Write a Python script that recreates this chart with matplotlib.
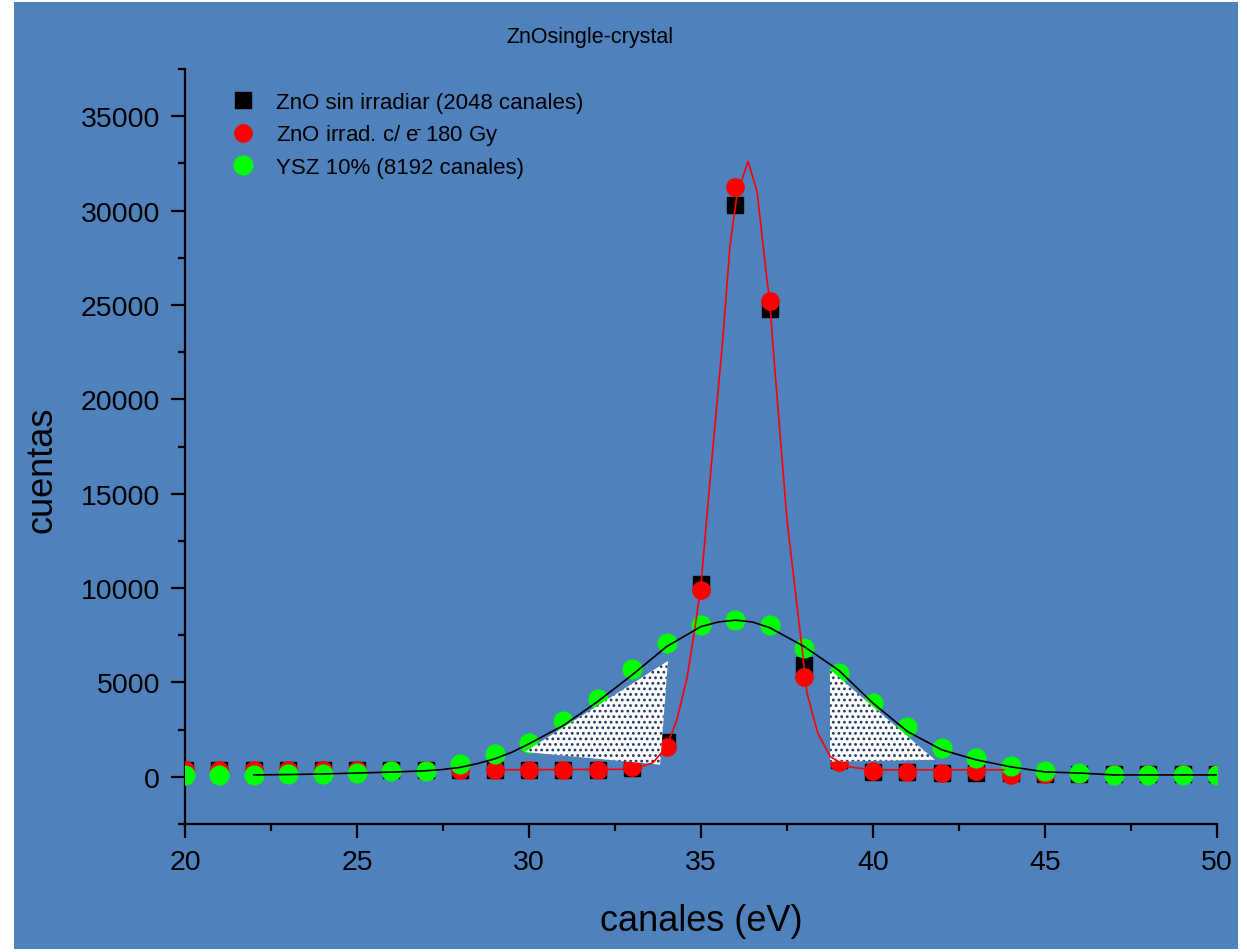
import matplotlib.pyplot as plt
from matplotlib.patches import Rectangle, Polygon
from matplotlib.ticker import MultipleLocator
import numpy as np

plt.rcParams['font.family'] = ['Liberation Sans', 'DejaVu Sans']
plt.rcParams['mathtext.fontset'] = 'custom'
plt.rcParams['mathtext.rm'] = 'Liberation Sans'
plt.rcParams['mathtext.it'] = 'Liberation Sans'
plt.rcParams['hatch.linewidth'] = 1.2

BG = '#4F81BD'

# channel axis (eV), one point per channel
canales = np.arange(20, 51)

# ZnO sin irradiar (2048 canales)
zno_raw = [350, 350, 350, 350, 350, 350, 350, 350, 370, 370,
           370, 370, 370, 470, 1850, 10200, 30300, 24800, 5950, 900,
           270, 260, 210, 210, 210, 150, 150, 150, 150, 150, 150]
# ZnO irradiado c/ e- 180 Gy
zno_irr = [380, 380, 380, 380, 380, 380, 380, 380, 370, 370,
           370, 370, 370, 530, 1590, 9900, 31250, 25200, 5300, 800,
           320, 260, 210, 300, 100, 150, 150, 150, 150, 150, 150]
# YSZ 10% (8192 canales)
ysz = [100, 100, 100, 150, 150, 200, 300, 330, 670, 1200,
       1800, 2950, 4130, 5720, 7100, 8050, 8330, 8050, 6830, 5500,
       3920, 2650, 1540, 1000, 580, 300, 200, 100, 100, 80, 80]

# fitted curve through the irradiated ZnO peak
fit_zno_x = [29.0, 33.0, 33.6, 34.0, 34.3, 34.6, 34.85, 35.0, 35.3, 35.63,
             35.84, 36.05, 36.37, 36.63, 36.92, 37.0, 37.08, 37.5, 37.93, 38.08,
             38.39, 38.76, 39.28, 40.0, 43.8]
fit_zno_y = [370, 400, 740, 1590, 3020, 5300, 8200, 10200, 16500, 23100,
             28100, 30900, 32600, 31000, 26300, 25200, 23100, 13600, 6900, 4450,
             2330, 1060, 530, 370, 370]

# gaussian fit of the YSZ spectrum
fit_ysz_x = [22, 23, 24, 25, 26, 27, 27.5, 28, 28.5, 29, 29.5, 30, 31, 32, 33, 34, 35, 35.5,
             36, 36.5, 37, 38, 39, 40, 41, 42, 43, 44, 45, 46, 47, 48, 50]
fit_ysz_y = [100, 120, 150, 200, 250, 320, 390, 500, 700, 950, 1300, 1750, 2720, 3990, 5400,
             6900, 7960, 8200, 8300, 8200, 7900, 6900, 5650, 3900, 2400, 1430, 900, 530, 260,
             200, 100, 100, 100]

# shaded regions on both flanks of the peak
left_area = [(29.88, 1320), (34.04, 6140), (33.81, 640)]
right_area = [(38.75, 5670), (38.75, 800), (41.8, 900)]

fig = plt.figure(figsize=(12.47, 9.53), dpi=100, facecolor='white')
fig.patches.append(Rectangle((14 / 1247, 3 / 953), 1224 / 1247, 947 / 953,
                             transform=fig.transFigure, facecolor=BG,
                             edgecolor='none', zorder=-5))

ax = fig.add_axes([185 / 1247, 1 - 825 / 953, 1032 / 1247, 755 / 953])
ax.set_facecolor(BG)

ax.plot(canales, zno_raw, 's', color='black', markersize=11.5, zorder=2,
        label='ZnO sin irradiar (2048 canales)')
ax.plot(canales, zno_irr, 'o', color='red', markersize=12.5, zorder=3,
        label=r'ZnO irrad. c/ e$^{\bar{ }}$ 180 Gy')
ax.plot(canales, ysz, 'o', color='#00FF00', markersize=13.5, zorder=4,
        label='YSZ 10% (8192 canales)')

for pts in (left_area, right_area):
    ax.add_patch(Polygon(pts, closed=True, facecolor='white', edgecolor='#1F3864',
                         linewidth=0, hatch='...', zorder=5))

ax.plot(fit_zno_x, fit_zno_y, '-', color='red', linewidth=1.2, zorder=6)
ax.plot(fit_ysz_x, fit_ysz_y, '-', color='black', linewidth=1.2, zorder=6)

ax.set_xlim(20, 50)
ax.set_ylim(-2500, 37500)
ax.xaxis.set_major_locator(MultipleLocator(5))
ax.xaxis.set_minor_locator(MultipleLocator(2.5))
ax.yaxis.set_major_locator(MultipleLocator(5000))
ax.yaxis.set_minor_locator(MultipleLocator(2500))

for side in ('top', 'right'):
    ax.spines[side].set_visible(False)
for side in ('left', 'bottom'):
    ax.spines[side].set_linewidth(1.6)
    ax.spines[side].set_color('black')

ax.tick_params(which='major', direction='out', length=10, width=1.6,
               labelsize=20.5, pad=8, colors='black')
ax.tick_params(which='minor', direction='out', length=5, width=1.6)
ax.set_yticks(np.arange(0, 35001, 5000))

ax.set_xlabel('canales (eV)', fontsize=26)
ax.set_ylabel('cuentas', fontsize=26)
ax.xaxis.set_label_coords(0.5, -0.105)
ax.yaxis.set_label_coords(-0.122, 0.47)

fig.text(590 / 1247, 1 - 38 / 953, 'ZnOsingle-crystal', ha='center', va='center',
         fontsize=15.5)

ax.legend(loc='upper left', bbox_to_anchor=(232 / 1247, 1 - 93 / 953),
          bbox_transform=fig.transFigure, frameon=False, fontsize=16,
          numpoints=1, handlelength=1.0, handletextpad=1.0, borderpad=0,
          borderaxespad=0, labelspacing=0.42)

fig.savefig('out.png', dpi=100, facecolor=fig.get_facecolor())
